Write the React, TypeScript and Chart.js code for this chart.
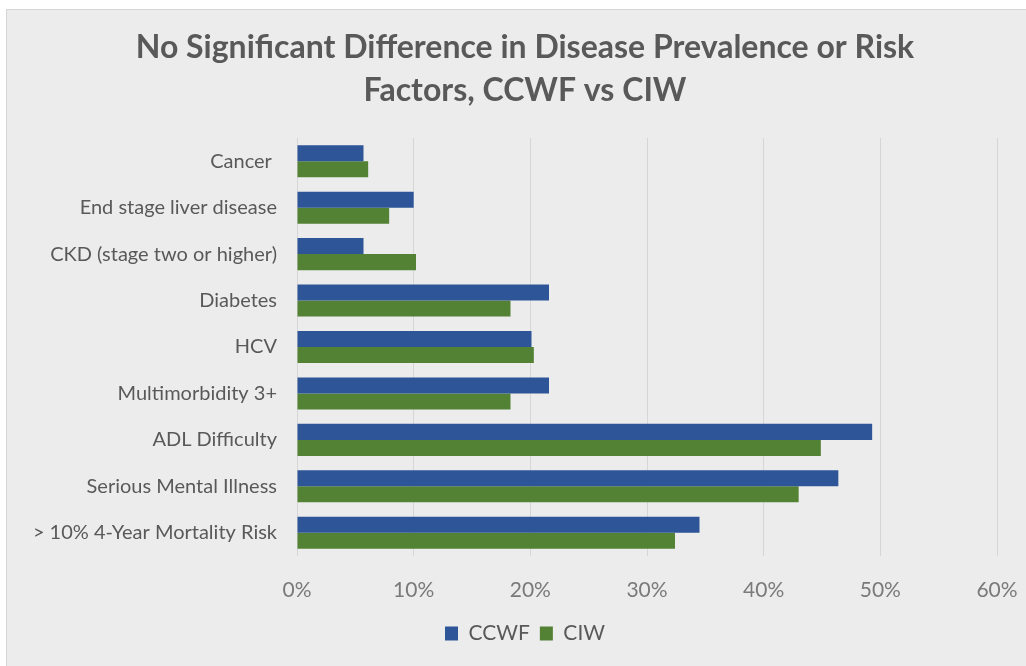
import React, { useEffect, useRef } from "react";
import { Chart, registerables } from "chart.js";

Chart.register(...registerables);

const categories = [
  "Cancer ",
  "End stage liver disease",
  "CKD (stage two or higher)",
  "Diabetes",
  "HCV",
  "Multimorbidity 3+",
  "ADL Difficulty",
  "Serious Mental Illness",
  "> 10% 4-Year Mortality Risk",
];
const ccwfValues = [5.7, 10.0, 5.7, 21.6, 20.1, 21.6, 49.3, 46.4, 34.5];
const ciwValues = [6.1, 7.9, 10.2, 18.3, 20.3, 18.3, 44.9, 43.0, 32.4];
const titleLines = [
  "No Significant Difference in Disease Prevalence or Risk",
  "Factors, CCWF vs CIW",
];
const seriesNames = ["CCWF", "CIW"];

const FONT = "Lato, 'Open Sans', sans-serif";
const TEXT = "#595959";

export default function App() {
  const ref = useRef<HTMLCanvasElement | null>(null);

  useEffect(() => {
    if (!ref.current) return;
    const chart = new Chart(ref.current, {
      type: "bar",
      data: {
        labels: categories,
        datasets: [
          {
            label: seriesNames[0],
            data: ccwfValues,
            backgroundColor: "#2E5597",
            borderWidth: 0,
            yAxisID: "y",
          },
          {
            label: seriesNames[1],
            data: ciwValues,
            backgroundColor: "#538234",
            borderWidth: 0,
            yAxisID: "y",
          },
        ],
      },
      options: {
        indexAxis: "y",
        animation: false,
        responsive: false,
        maintainAspectRatio: false,
        datasets: {
          bar: { categoryPercentage: 0.69, barPercentage: 1 },
        },
        layout: { padding: { left: 0, right: 0, top: 0, bottom: 12 } },
        plugins: {
          title: {
            display: true,
            text: titleLines,
            color: TEXT,
            font: { family: FONT, size: 32, weight: "bold", lineHeight: 1.344 },
            padding: { top: 16, bottom: 26 },
          },
          legend: {
            position: "bottom",
            labels: {
              color: TEXT,
              font: { family: FONT, size: 21 },
              boxWidth: 13,
              boxHeight: 14,
              padding: 10,
            },
          },
          tooltip: { enabled: false },
        },
        scales: {
          x: {
            min: 0,
            max: 60,
            ticks: {
              stepSize: 10,
              color: "#7a7a7a",
              font: { family: FONT, size: 21 },
              padding: 22,
              callback: (v: any) => v + "%",
            },
            grid: { color: "#d6d6d6", drawTicks: false, lineWidth: 1 },
            border: { display: false },
            afterFit: (s: any) => {
              s.height = 57;
            },
          },
          y: {
            ticks: {
              color: TEXT,
              font: { family: FONT, size: 20 },
              padding: 20,
            },
            grid: { display: false, drawTicks: false },
            border: { display: false },
            afterFit: (s: any) => {
              s.width = 290;
            },
          },
          yRight: {
            type: "category",
            position: "right",
            display: true,
            ticks: { display: false },
            grid: { display: false, drawTicks: false },
            border: { display: false },
            afterFit: (s: any) => {
              s.width = 46;
            },
          },
        },
      },
    });
    return () => chart.destroy();
  }, []);

  return (
    <div
      style={{
        position: "fixed",
        left: 0,
        top: 0,
        width: 1026,
        height: 666,
        background: "#ffffff",
        overflow: "hidden",
      }}
    >
      <div
        style={{
          position: "absolute",
          left: 6,
          top: 9,
          width: 1040,
          height: 670,
          background: "#ececec",
          border: "1px solid #d4d4d4",
        }}
      >
        <canvas ref={ref} width={1036} height={656} style={{ display: "block" }} />
      </div>
    </div>
  );
}
